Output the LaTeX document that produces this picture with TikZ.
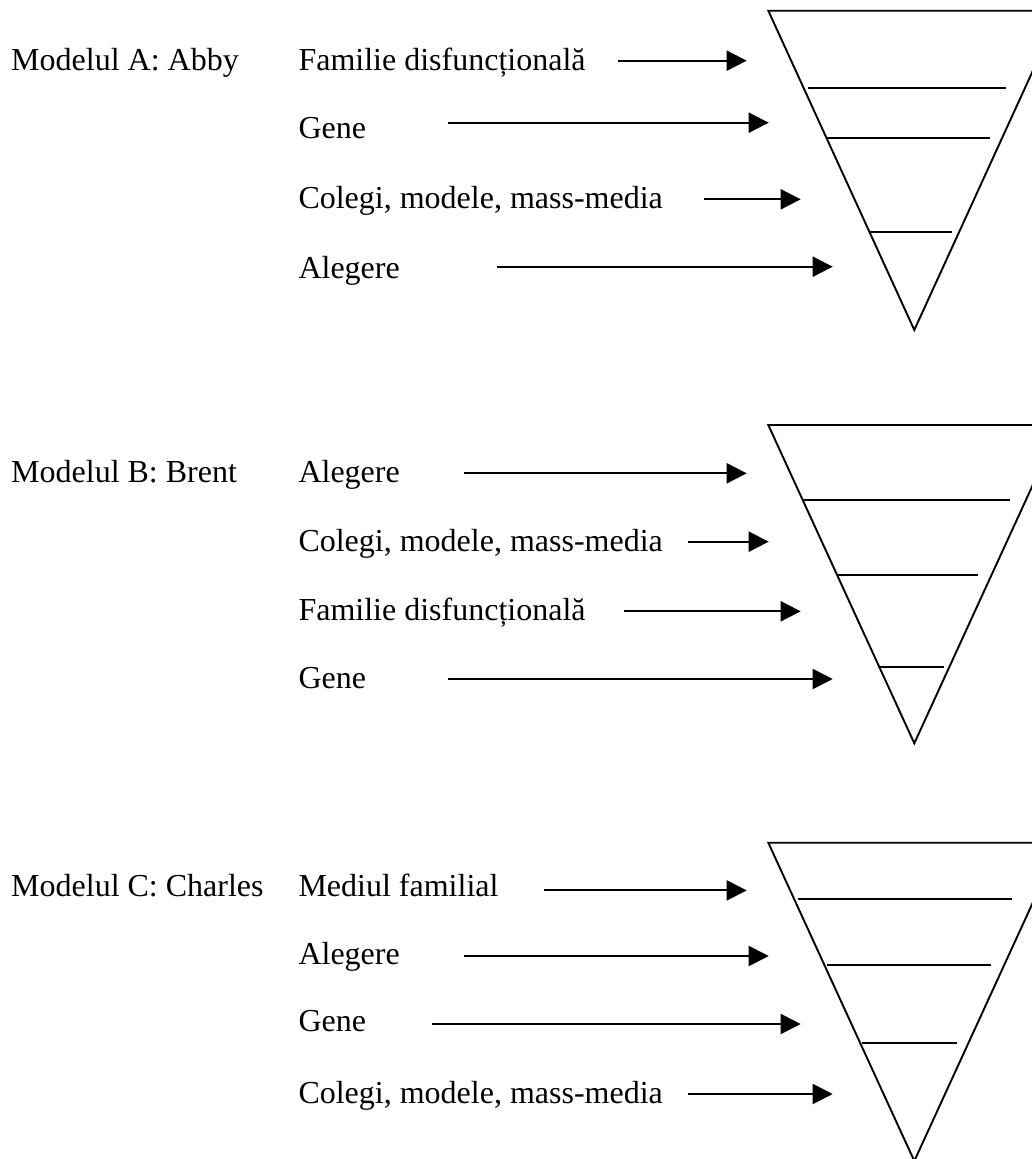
\documentclass[tikz,border=0pt]{standalone}
\usepackage{fontspec}
\setmainfont{Liberation Serif}
\usetikzlibrary{arrows.meta}

\tikzset{
  lbl/.style={anchor=base west, inner sep=0pt, font=\fontsize{32}{38}\selectfont},
  feed/.style={line width=2pt, -{Triangle[length=20pt,width=20pt]}},
  funnel/.style={line width=1.9pt, line join=miter},
  tier/.style={line width=1.9pt},
}

\begin{document}
\begin{tikzpicture}[x=1pt, y=-1pt]
  \useasboundingbox (0,0) rectangle (1031,1159);
  % --- model names ----------------------------------------------------
  \node[lbl] (modA) at (11,70)    {Modelul A: Abby};
  \node[lbl] (modB) at (11,482.7) {Modelul B: Brent};
  \node[lbl] (modC) at (11,896)   {Modelul C: Charles};
  % --- factors + arrows: name/text/baseline/arrow start/arrow y/tip ---
  \foreach \n/\txt/\yb/\xs/\ya/\xe in {
      a1/{Familie disfuncțională}/70/618.3/60.7/746.7,
      a2/{Gene}/138/448.3/122.7/768.7,
      a3/{Colegi, modele, mass-media}/208/704.3/199.3/800.7,
      a4/{Alegere}/278/496.7/266.7/832.7,
      b1/{Alegere}/482.7/464/473.3/746.7,
      b2/{Colegi, modele, mass-media}/551.7/688.3/541.7/768.7,
      b3/{Familie disfuncțională}/620.7/624/611.3/800.7,
      b4/{Gene}/688.3/448.3/679/832.7,
      c1/{Mediul familial}/896/544/890.4/746.7,
      c2/{Alegere}/964.3/464/956/768.7,
      c3/{Gene}/1031.7/432.3/1024/800.7,
      c4/{Colegi, modele, mass-media}/1103.3/688.3/1094/832.7} {
     \node[lbl] (\n) at (298.3,\yb) {\txt};
     \coordinate (\n s) at (\xs,\ya);
     \coordinate (\n e) at (\xe,\ya);
     \draw[feed] (\n s) -- (\n e);
  }
  % --- the three funnels (right corner runs off the page) -------------
  \foreach \top/\tip in {10.7/330, 425/743.3, 842.7/1161} {
     \draw[funnel] (768.3,\top) -- (1060.3,\top) -- (914.3,\tip) -- cycle;
  }
  % tier lines inside each funnel
  \foreach \y/\xl/\xr in {88/808.3/1006, 138.3/826.7/990, 231.7/870/951.7,
                          500/803/1010, 575.3/836.7/978.3, 666.7/878.3/944,
                          899/798.3/1012.3, 965/826.7/990.7, 1043.3/861.7/957.3} {
     \draw[tier] (\xl,\y) -- (\xr,\y);
  }
\end{tikzpicture}
\end{document}
